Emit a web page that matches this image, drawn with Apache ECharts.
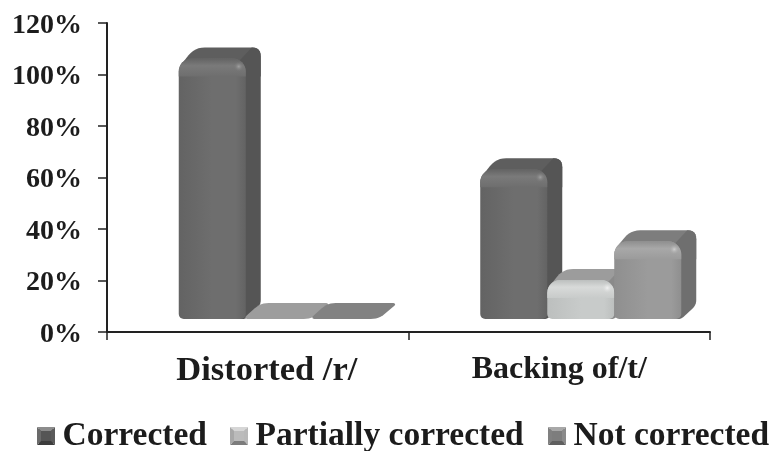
<!DOCTYPE html>
<html><head><meta charset="utf-8">
<style>html,body{margin:0;padding:0;background:#fff}#c{width:772px;height:451px}</style>
<script src="https://cdn.jsdelivr.net/npm/echarts@6/dist/echarts.min.js"></script>
</head><body><div id="c"></div>
<script>
const categories = ['Distorted /r/', 'Backing of/t/'];
const corrected = [100, 57];
const partiallyCorrected = [0, 14];
const notCorrected = [0, 29];
const yTicks = [0, 20, 40, 60, 80, 100, 120];

const FONT = '"Liberation Serif", serif';
const INK = '#1c1c1c';
const palette = [
  {front:'#6e6e6e', edge:'#636363', band:'#7a7a7a', top:'#5e5e5e', side:'#555555', flat:'#5e5e5e', spot:'#a0a0a0', l:'#6a6a6a', t:'#8c8c8c', r:'#5a5a5a', b:'#3c3c3c', m:'#555555'},
  {front:'#c8cbca', edge:'#bcbfbe', band:'#d8dad9', top:'#9c9c9c', side:'#8a8a8a', flat:'#9d9d9d', spot:'#f2f2f2', l:'#a8a8a8', t:'#d6d6d6', r:'#b8b8b8', b:'#7c7c7c', m:'#bbbbbb'},
  {front:'#9b9b9b', edge:'#8f8f8f', band:'#a8a8a8', top:'#7d7d7d', side:'#6f6f6f', flat:'#828282', spot:'#d0d0d0', l:'#808080', t:'#a8a8a8', r:'#8a8a8a', b:'#5f5f5f', m:'#7d7d7d'}
];

// each point is [x, y, cornerRadius]
function rounded(points) {
  const out = [], n = points.length;
  for (let i = 0; i < n; i++) {
    const p = points[i], a = points[(i + n - 1) % n], b = points[(i + 1) % n], r = p[2];
    if (!r) { out.push([p[0], p[1]]); continue; }
    const la = Math.hypot(a[0]-p[0], a[1]-p[1]), lb = Math.hypot(b[0]-p[0], b[1]-p[1]);
    const ra = Math.min(r, la*.9), rb = Math.min(r, lb*.9);
    const s = [p[0]+(a[0]-p[0])*ra/la, p[1]+(a[1]-p[1])*ra/la];
    const e = [p[0]+(b[0]-p[0])*rb/lb, p[1]+(b[1]-p[1])*rb/lb];
    for (let k = 0; k <= 6; k++) {
      const t = k/6, u = 1-t;
      out.push([u*u*s[0]+2*u*t*p[0]+t*t*e[0], u*u*s[1]+2*u*t*p[1]+t*t*e[1]]);
    }
  }
  return out;
}

function make3dBar(si) {
  const BW = 67, DX = 15, DY = 14, SHIFT = 21.5;
  return function (params, api) {
    const c = palette[si];
    const base = api.coord([api.value(0), 0]);
    const top = api.coord([api.value(0), api.value(1)]);
    const x0 = base[0] - 1.5*BW + si*BW + SHIFT, x1 = x0 + BW;
    const yb = base[1] - DY + 1, yt = top[1] - DY - 2, yk = yt - DY + 3;
    const children = [];
    if (api.value(1) === 0) {
      children.push({type:'polygon', shape:{points: rounded([[x0-3,yb,6],[x0+DX,yb-16,8],[x1+DX+3,yb-16,6],[x1-1,yb,8]])}, style:{fill:c.flat}});
      return {type:'group', children};
    }
    children.push({type:'polygon', shape:{points: rounded([[x0,yt+9,9],[x0+DX+1,yk,10],[x1+DX,yk,9],[x1+DX,yt+18,0],[x1,yt+18,0]])}, style:{fill:c.top}});
    children.push({type:'polygon', shape:{points: rounded([[x1-8,yt+4,0],[x1+DX-9,yk,0],[x1+DX,yk,9],[x1+DX,yb-DY,5],[x1,yb,3],[x1-8,yb,0]])}, style:{fill:c.side}});
    children.push({type:'rect', shape:{x:x0, y:yt, width:BW, height:yb-yt, r:[13,13,5,5]},
      style:{fill:new echarts.graphic.LinearGradient(0,0,1,0,[
        {offset:0,color:c.edge},{offset:.5,color:c.front},{offset:.85,color:c.front},{offset:1,color:c.edge}])}});
    children.push({type:'rect', shape:{x:x0, y:yt, width:BW, height:18, r:[13,13,0,0]},
      style:{fill:new echarts.graphic.LinearGradient(0,0,0,1,[
        {offset:0,color:c.edge},{offset:.4,color:c.band},{offset:1,color:c.front}])}});
    children.push({type:'circle', shape:{cx:x1-7, cy:yt+8, r:5},
      style:{fill:new echarts.graphic.RadialGradient(.5,.5,.5,[{offset:0,color:c.spot},{offset:1,color:c.band+'00'}])}});
    return {type:'group', children};
  };
}

const names = ['Corrected', 'Partially corrected', 'Not corrected'];
const values = [corrected, partiallyCorrected, notCorrected];

// bevel on the legend swatches
const swatchX = [37, 230, 548], swatchY = 427, S = 18;
const bevel = [];
swatchX.forEach((x,i)=>{
  const c = palette[i], mx = x+S/2, my = swatchY+S/2, I = 4;
  const q = (pts,fill)=>bevel.push({type:'polygon', z:20, silent:true, shape:{points:pts}, style:{fill}});
  q([[x,swatchY],[x+S,swatchY],[mx,my]], c.t);
  q([[x+S,swatchY],[x+S,swatchY+S],[mx,my]], c.r);
  q([[x,swatchY+S],[x+S,swatchY+S],[mx,my]], c.b);
  q([[x,swatchY],[x,swatchY+S],[mx,my]], c.l);
  bevel.push({type:'rect', z:21, silent:true, shape:{x:x+I,y:swatchY+I,width:S-2*I,height:S-2*I}, style:{fill:c.m}});
});

const chart = echarts.init(document.getElementById('c'), null, {renderer:'canvas'});
chart.setOption({
  animation:false,
  backgroundColor:'#fff',
  grid:{left:107, right:62, top:23, bottom:119},
  graphic:bevel,
  xAxis:{type:'category', data:categories,
    axisLine:{lineStyle:{color:'#222',width:2}},
    axisTick:{show:true, alignWithLabel:false, length:8, lineStyle:{color:'#222',width:1.5}},
    axisLabel:{color:INK, margin:22,
      formatter:(v,i)=>(i===0?'{a|':'{b|')+v+'}',
      rich:{
        a:{fontFamily:FONT, fontWeight:'bold', fontSize:34.5, color:INK, padding:[0,0,0,18]},
        b:{fontFamily:FONT, fontWeight:'bold', fontSize:32, color:INK}
      }}},
  yAxis:{type:'value', min:0, max:120, interval:20,
    axisLine:{show:true, lineStyle:{color:'#222',width:2}},
    axisTick:{show:true, length:9, lineStyle:{color:'#222',width:1.5}},
    splitLine:{show:false},
    axisLabel:{color:INK, margin:25, formatter:v=>yTicks.includes(v)?'{v|'+v+'%}':'',
      rich:{v:{fontFamily:FONT, fontWeight:'bold', fontSize:28, color:INK, padding:[5,0,0,0]}}}},
  legend:names.map((n,i)=>({left:swatchX[i], top:419, padding:0, itemWidth:18, itemHeight:14, icon:'rect',
    textStyle:{fontFamily:FONT, fontWeight:'bold', fontSize:33.5, color:INK, padding:[0,0,0,2.5]},
    data:[{name:n, itemStyle:{color:palette[i].m}}]})),
  series:names.map((n,i)=>({name:n, type:'custom', renderItem:make3dBar(i), clip:false,
    itemStyle:{color:palette[i].front},
    encode:{x:0,y:1}, data:categories.map((_,k)=>[k,values[i][k]])}))
});
</script></body></html>
